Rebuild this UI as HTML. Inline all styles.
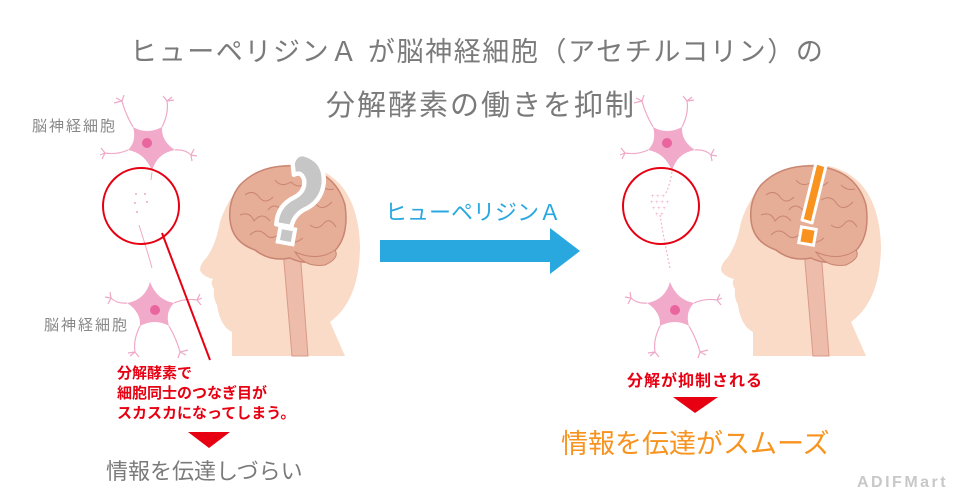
<!DOCTYPE html>
<html><head><meta charset="utf-8">
<style>
html,body{margin:0;padding:0;background:#fff;}
body{width:961px;height:501px;overflow:hidden;position:relative;font-family:"Liberation Sans","Noto Sans CJK JP",sans-serif;}
.t{position:absolute;white-space:nowrap;}
</style></head><body>
<svg width="961" height="501" style="position:absolute;left:0;top:0" xmlns="http://www.w3.org/2000/svg">
<defs>
<g id="neuron">
 <g fill="none" stroke="#f0a8c8" stroke-width="1.2">
  <path d="M-14,-16 Q-22,-30 -25,-42 M-25,-42 l-6,-3 M-25,-42 l2,-6 M-25,-42 l-8,2"/>
  <path d="M15,-16 Q22,-30 20,-42 M20,-42 l-4,-5 M20,-42 l5,-4 M20,-42 l7,-1"/>
  <path d="M-19,7 Q-30,12 -42,10 M-42,10 l-4,-5 M-42,10 l-5,2 M-42,10 l-3,6"/>
  <path d="M28,7 Q38,6 44,12 M44,12 l3,-6 M44,12 l6,1 M44,12 l1,6"/>
 </g>
 <path d="M-14,-16 Q0,-8 15,-16 Q14,-2 28,7 Q10,10 5,28 Q-2,10 -19,7 Q-10,-2 -14,-16Z" fill="#f2aacb"/>
 <circle cx="0" cy="0" r="5" fill="#e9659e"/>
</g>
<g id="head">
 <path d="M232,356 L232,332 Q220,326 217,305 Q213,298 214,289 Q210,283 213,279 Q202,276 200,270 Q200,264 207,257 Q216,244 220,222 Q238,166 296,164 Q357,170 360,245 Q360,300 330,322 L345,356 Z" fill="#f9dbc8"/>
 <path d="M283,250 L300,250 L308,356 L292,356 Z" fill="#edbcab" stroke="#d99a88" stroke-width="1"/>
 <path d="M240,185 Q260,164 295,166 Q335,170 345,205 Q350,240 330,255 Q310,268 290,258 Q270,262 255,250 Q232,242 230,220 Q228,200 240,185Z" fill="#e6ad97" stroke="#c98571" stroke-width="1.5"/>
 <path d="M295,252 Q318,262 335,250 Q340,258 325,265 Q305,268 295,252Z" fill="#e6ad97" stroke="#c98571" stroke-width="1"/>
 <g fill="none" stroke="#c98571" stroke-width="1">
  <path d="M245,195 q8,-6 14,2 q6,8 14,0 M240,215 q10,-4 14,6 q8,-10 16,0 M250,235 q8,-8 16,0 q6,6 14,-2 M275,180 q6,8 16,2 q8,8 16,0 M300,200 q10,-6 16,4 q6,8 16,-2 M310,225 q8,6 14,-2 q6,-6 12,4 M268,210 q6,-8 14,0 M285,240 q8,6 18,-2 M320,185 q6,6 14,4"/>
 </g>
</g>
</defs>

<use href="#head"/>
<path d="M291,165 Q292,155 300,155 Q320,157 322,178 Q323,195 308,205 Q300,212 300,222 L286,222 Q284,205 298,195 Q307,188 304,178 Q300,170 294,175 Z" fill="#c6c6c6" stroke="#fff" stroke-width="4" stroke-linejoin="round" transform="translate(-5,5) rotate(10 300 200) scale(1.1) translate(-27,-20)"/>
<rect x="279" y="228" width="15" height="15" fill="#c6c6c6" stroke="#fff" stroke-width="4" transform="rotate(10 286 235)"/>
<use href="#neuron" x="147" y="143"/>
<use href="#neuron" x="155" y="310" transform="rotate(180 155 310)"/>
<g fill="#f0a8c8"><circle cx="136" cy="194" r="1"/><circle cx="145" cy="194" r="1"/><circle cx="135" cy="203" r="1"/><circle cx="147" cy="202" r="1"/><circle cx="137" cy="212" r="1"/></g>
<path d="M152,172 L151,180 M139,225 Q147,250 152,268" stroke="#f0a8c8" stroke-width="1" fill="none"/>
<circle cx="141" cy="206" r="38" fill="none" stroke="#e60012" stroke-width="2"/>
<line x1="162" y1="233" x2="210" y2="360" stroke="#e60012" stroke-width="2"/>

<path d="M380,240 L550,240 L550,228 L580,251 L550,274 L550,262 L380,262 Z" fill="#29a8e0"/>

<use href="#head" transform="translate(521,0)"/>
<polygon points="816,163 826,166 812,223 802,220" fill="#f7931e" stroke="#fff" stroke-width="3" stroke-linejoin="round"/>
<rect x="800" y="228" width="15" height="16" fill="#f7931e" stroke="#fff" stroke-width="3" transform="rotate(10 807 236)"/>
<use href="#neuron" x="667" y="143"/>
<use href="#neuron" x="675" y="310" transform="rotate(180 675 310)"/>
<g fill="#f0a8c8" font-size="6" font-family="Liberation Sans">
<text x="651" y="198">+ + +</text><text x="650" y="204">+ + + +</text><text x="652" y="210">+ + +</text><text x="655" y="216">+ +</text>
</g>
<path d="M672,172 Q670,185 665,195 M660,215 Q664,240 670,268" stroke="#f0a8c8" stroke-width="1" stroke-dasharray="2 2" fill="none"/>
<circle cx="661" cy="206" r="38" fill="none" stroke="#e60012" stroke-width="2"/>

<polygon points="188,432 230,432 209,448" fill="#e60012"/>
<polygon points="673,397 718,397 695,413" fill="#e60012"/>
</svg>

<div class="t" style="left:130px;top:30px;font-size:27px;letter-spacing:1.6px;color:#7a7a7a;">ヒューペリジンＡ が脳神経細胞（アセチルコリン）の</div>
<div class="t" style="left:326px;top:82px;font-size:29px;letter-spacing:2px;color:#7a7a7a;">分解酵素の働きを抑制</div>
<div class="t" style="left:32px;top:115px;font-size:15px;letter-spacing:2px;color:#888;">脳神経細胞</div>
<div class="t" style="left:44px;top:314px;font-size:15px;letter-spacing:2px;color:#888;">脳神経細胞</div>
<div class="t" style="left:385px;top:195px;font-size:22px;color:#29a8e0;">ヒューペリジンＡ</div>
<div class="t" style="left:117px;top:364px;font-size:15px;line-height:20px;color:#e60012;font-weight:bold;">分解酵素で<br>細胞同士のつなぎ目が<br>スカスカになってしまう。</div>
<div class="t" style="left:106px;top:454px;font-size:22px;color:#7a7a7a;">情報を伝達しづらい</div>
<div class="t" style="left:627px;top:367px;font-size:16px;letter-spacing:1px;color:#e60012;font-weight:bold;">分解が抑制される</div>
<div class="t" style="left:561px;top:422px;font-size:27px;color:#f7931e;">情報を伝達がスムーズ</div>
<div class="t" style="left:857px;top:474px;font-size:16px;color:#c8c8c8;font-weight:bold;letter-spacing:2.5px;">ADIFMart</div>
</body></html>
